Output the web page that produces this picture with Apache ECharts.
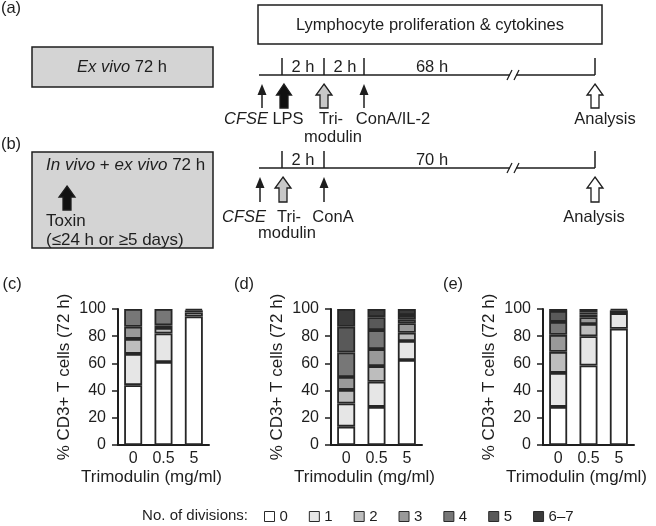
<!DOCTYPE html>
<html>
<head>
<meta charset="utf-8">
<script src="https://cdn.jsdelivr.net/npm/echarts@6/dist/echarts.min.js"></script>
<style>
html,body{margin:0;padding:0;background:#fff;}
#chart{width:656px;height:526px;}
</style>
</head>
<body>
<div id="chart"></div>
<script>
// ---- data ----
const categories = ['0', '0.5', '5'];               // Trimodulin (mg/ml)
const divisionNames = ['0', '1', '2', '3', '4', '5', '6–7'];
const yTicks = [0, 20, 40, 60, 80, 100];
// rows = number of divisions, columns = trimodulin dose (0, 0.5, 5)
const panelC = [
  [44, 61, 94.5],
  [23, 21, 3],
  [11, 4, 1.5],
  [9, 2, 1],
  [13, 12, 0],
  [0, 0, 0],
  [0, 0, 0]
];
const panelD = [
  [13.5, 28, 62.5],
  [17, 18.5, 14],
  [10, 11.5, 6],
  [9.5, 12.5, 7],
  [18, 14, 3],
  [19, 9.5, 3],
  [13, 6, 4.5]
];
const panelE = [
  [28, 58.5, 85.5],
  [25, 21.5, 11.5],
  [15.5, 9, 2],
  [12.5, 5, 1],
  [9.5, 2, 0],
  [8, 1.5, 0],
  [1.5, 2.5, 0]
];
const panels = [panelC, panelD, panelE];

// ---- styles ----
const FONT = "'Liberation Sans', Arial, Helvetica, sans-serif";
const colors = ['#ffffff', '#e6e6e6', '#bdbdbd', '#999999', '#777777', '#595959', '#3a3a3a'];
const gridLefts = [118, 331, 543];
const INK = '#1e1e1e';
const F = '16.5px ' + FONT;
const FI = 'italic 16.5px ' + FONT;

const grids = [], xAxes = [], yAxes = [], series = [];
panels.forEach((panel, p) => {
  grids.push({ left: gridLefts[p], top: 309, width: 91, height: 136 });
  xAxes.push({
    type: 'category', gridIndex: p, data: categories,
    axisLine: { lineStyle: { color: INK, width: 2 } },
    axisTick: { show: false },
    axisLabel: { color: INK, fontSize: 16, fontFamily: FONT, margin: 6 },
    name: 'Trimodulin (mg/ml)', nameLocation: 'middle', nameGap: 24,
    nameTextStyle: { color: INK, fontSize: 17, fontFamily: FONT, padding: [0, 24, 0, 0] }
  });
  yAxes.push({
    type: 'value', gridIndex: p, min: yTicks[0], max: yTicks[yTicks.length - 1],
    interval: yTicks[1] - yTicks[0],
    splitLine: { show: false },
    axisLine: { show: true, lineStyle: { color: INK, width: 2 } },
    axisTick: { show: true, length: 6, lineStyle: { color: INK, width: 1.5 } },
    axisLabel: { color: INK, fontSize: 16, fontFamily: FONT, margin: 12 },
    name: '% CD3+ T cells (72 h)', nameLocation: 'middle', nameGap: 45,
    nameTextStyle: { color: INK, fontSize: 17, fontFamily: FONT }
  });
  panel.forEach((row, d) => {
    series.push({
      type: 'bar', name: divisionNames[d], stack: 'p' + p,
      xAxisIndex: p, yAxisIndex: p, barWidth: 18,
      data: row.map(v => (v === 0 ? '-' : v)),
      itemStyle: { color: colors[d], borderColor: '#262626', borderWidth: 1.8 },
      emphasis: { disabled: true }
    });
  });
});

// ---- schematic helpers ----
const els = [];
function txt(x, y, text, opt) {
  els.push({
    type: 'text', x: x, y: y, silent: true,
    style: Object.assign({ text: text, fill: INK, font: F, align: 'center', verticalAlign: 'middle' }, opt || {})
  });
}
function richTxt(x, y, text, rich, align, font) {
  els.push({
    type: 'text', x: x, y: y, silent: true,
    style: { text: text, rich: rich, fill: INK, font: font || F, align: align || 'center', verticalAlign: 'middle' }
  });
}
function rect(x, y, w, h, fill) {
  els.push({ type: 'rect', silent: true, shape: { x: x, y: y, width: w, height: h },
    style: { fill: fill, stroke: INK, lineWidth: 1.5 } });
}
function line(x1, y1, x2, y2, w) {
  els.push({ type: 'line', silent: true, shape: { x1: x1, y1: y1, x2: x2, y2: y2 },
    style: { stroke: INK, lineWidth: w || 1.5 } });
}
function thinArrow(x, yTop, yBot) {
  line(x, yTop + 8, x, yBot, 1.5);
  els.push({ type: 'polygon', silent: true,
    shape: { points: [[x, yTop], [x - 4.5, yTop + 11], [x + 4.5, yTop + 11]] },
    style: { fill: INK } });
}
function blockArrow(x, yTop, yBot, headW, shaftW, headH, fill) {
  els.push({ type: 'polygon', silent: true,
    shape: { points: [[x, yTop], [x + headW / 2, yTop + headH], [x + shaftW / 2, yTop + headH],
      [x + shaftW / 2, yBot], [x - shaftW / 2, yBot], [x - shaftW / 2, yTop + headH], [x - headW / 2, yTop + headH]] },
    style: { fill: fill, stroke: INK, lineWidth: 1.3 } });
}
function timeline(y, x0, x1, ticks) {
  line(x0, y, x1, y, 1.5);
  ticks.forEach(t => line(t, y - 17, t, y, 1.5));
  const bx = 513;
  els.push({ type: 'rect', silent: true, shape: { x: bx - 3, y: y - 3, width: 6, height: 6 }, style: { fill: '#fff' } });
  line(bx - 6, y + 5, bx - 1, y - 5, 1.3);
  line(bx + 1, y + 5, bx + 6, y - 5, 1.3);
}

// panel labels
txt(11, 8, '(a)');
txt(11, 144, '(b)');
txt(12, 284, '(c)');
txt(244, 284, '(d)');
txt(453, 284, '(e)');

// (a)
rect(258, 5, 344, 39, '#fff');
txt(430, 25, 'Lymphocyte proliferation & cytokines');
rect(32, 47, 181, 40, '#d4d4d4');
richTxt(122, 67, '{i|Ex vivo} 72 h', { i: { font: FI, fill: INK } });
timeline(75, 259, 595, [282, 324, 364, 595]);
txt(303, 67, '2 h');
txt(345, 67, '2 h');
txt(432, 67, '68 h');
thinArrow(262, 84, 108);
blockArrow(284, 84, 108, 15, 8, 11, '#111');
blockArrow(324, 84, 108, 16, 8, 11, '#c8c8c8');
thinArrow(364, 84, 108);
blockArrow(595, 84, 108, 16, 8, 11, '#fff');
txt(246, 119, 'CFSE', { font: FI });
txt(288, 119, 'LPS');
txt(331, 119, 'Tri-');
txt(333, 137, 'modulin');
txt(393, 119, 'ConA/IL-2');
txt(605, 119, 'Analysis');

// (b)
rect(32, 152, 181, 96, '#d4d4d4');
richTxt(46, 165, '{i|In vivo} + {i|ex vivo} 72 h', { i: { font: 'italic 17px ' + FONT, fill: INK } }, 'left', '17px ' + FONT);
blockArrow(67, 186, 210, 16, 8, 11, '#111');
txt(46, 221, 'Toxin', { align: 'left', font: '17px ' + FONT });
txt(46, 240, '(≤24 h or ≥5 days)', { align: 'left', font: '17px ' + FONT });
timeline(168, 259, 595, [282, 324, 595]);
txt(303, 160, '2 h');
txt(432, 160, '70 h');
thinArrow(260, 177, 202);
blockArrow(283, 177, 202, 16, 8, 11, '#c8c8c8');
thinArrow(324, 177, 202);
blockArrow(595, 177, 202, 16, 8, 11, '#fff');
txt(244, 217, 'CFSE', { font: FI });
txt(289, 217, 'Tri-');
txt(287, 233, 'modulin');
txt(333, 217, 'ConA');
txt(594, 217, 'Analysis');

// legend title
txt(248, 516, 'No. of divisions:', { align: 'right', font: '15px ' + FONT });

const chart = echarts.init(document.getElementById('chart'), null, { renderer: 'canvas' });
chart.setOption({
  animation: false,
  backgroundColor: '#fff',
  textStyle: { fontFamily: FONT },
  grid: grids, xAxis: xAxes, yAxis: yAxes, series: series,
  legend: {
    data: divisionNames, left: 264, top: 509, orient: 'horizontal', padding: 0,
    icon: 'rect', itemWidth: 10, itemHeight: 10, itemGap: 21, selectedMode: false,
    textStyle: { color: INK, fontSize: 15, fontFamily: FONT },
    itemStyle: { borderColor: '#2a2a2a', borderWidth: 1 }
  },
  graphic: { elements: els }
});
</script>
</body>
</html>
